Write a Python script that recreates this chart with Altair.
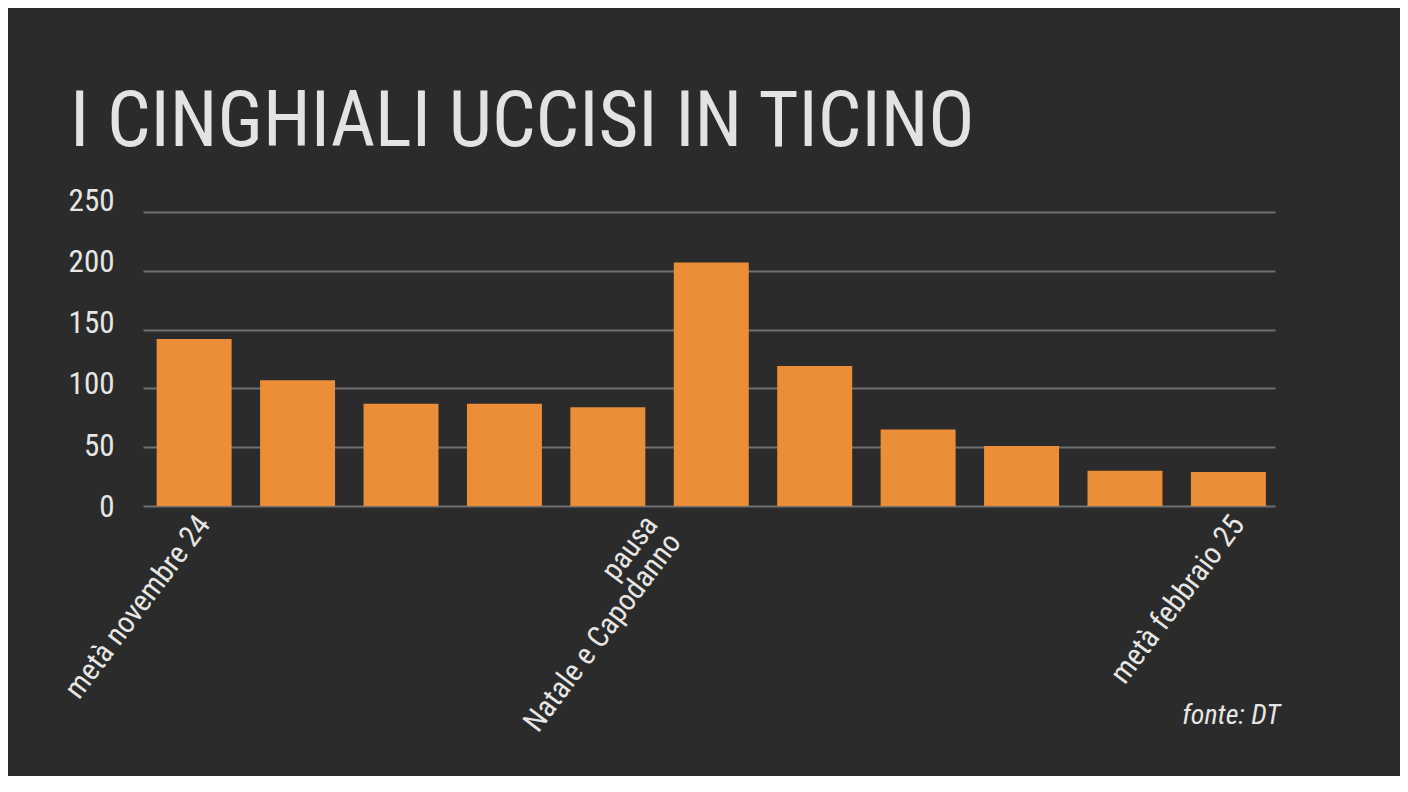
import json
import altair as alt
import pandas as pd

# data
settimane = list(range(1, 12))
uccisi = [142, 107, 87, 87, 84, 207, 119, 65, 51, 30, 29]
etichette = ["metà novembre 24", "", "", "", ["pausa", "Natale e Capodanno"], "", "", "", "", "", "metà febbraio 25"]
y_ticks = [0, 50, 100, 150, 200, 250]

df = pd.DataFrame({"settimana": settimane, "uccisi": uccisi})

FONT = "Liberation Sans Narrow, Roboto Condensed, DejaVu Sans Condensed, sans-serif"
BG = "#2b2b2b"
TXT = "#e6e6e6"

label_expr = json.dumps(etichette, ensure_ascii=False) + "[datum.value - 1]"

chart = alt.Chart(df).mark_bar(color="#ec8d37").encode(
    x=alt.X(
        "settimana:O",
        scale=alt.Scale(paddingInner=0.275, paddingOuter=0.11, align=0.6),
        axis=alt.Axis(
            title="fonte: DT",
            titleFont=FONT,
            titleFontSize=28,
            titleFontStyle="italic",
            titleFontWeight="normal",
            titleColor=TXT,
            titleAnchor="end",
            titleAlign="right",
            titleBaseline="alphabetic",
            titleX=1137,
            titleY=217,
            labelExpr=label_expr,
            labelAngle=-53,
            labelAlign="right",
            labelBaseline="top",
            labelFont=FONT,
            labelFontSize=30,
            labelLineHeight=29,
            labelLimit=0,
            labelColor=TXT,
            labelPadding=4,
            labelOffset={"condition": {"test": "datum.value == 5", "value": 32}, "value": -2},
            labelOverlap=False,
            ticks=False,
            domain=False,
            grid=False,
        ),
    ),
    y=alt.Y(
        "uccisi:Q",
        scale=alt.Scale(domain=[0, 250]),
        axis=alt.Axis(
            title=None,
            values=y_ticks,
            labelFont=FONT,
            labelFontSize=31,
            labelColor=TXT,
            labelPadding=29,
            labelOffset=alt.ExprRef(expr="(30 - datum.value) * 0.05"),
            ticks=False,
            domain=False,
            grid=True,
            gridColor="#707070",
            gridWidth=2,
        ),
    ),
).properties(
    width=1132,
    height=294,
    background=BG,
    padding={"left": 135, "top": 204, "right": 125, "bottom": 270},
    autosize=alt.AutoSizeParams(type="none"),
    title=alt.TitleParams(
        text="I CINGHIALI UCCISI IN TICINO",
        font=FONT,
        fontSize=77,
        fontWeight="normal",
        color="#e3e3e3",
        anchor="start",
        frame="group",
        baseline="alphabetic",
        dx=-73,
        dy=42,
    ),
).configure_view(stroke=None)

chart.save("out.html", embed_options={"renderer": "svg", "actions": False})
